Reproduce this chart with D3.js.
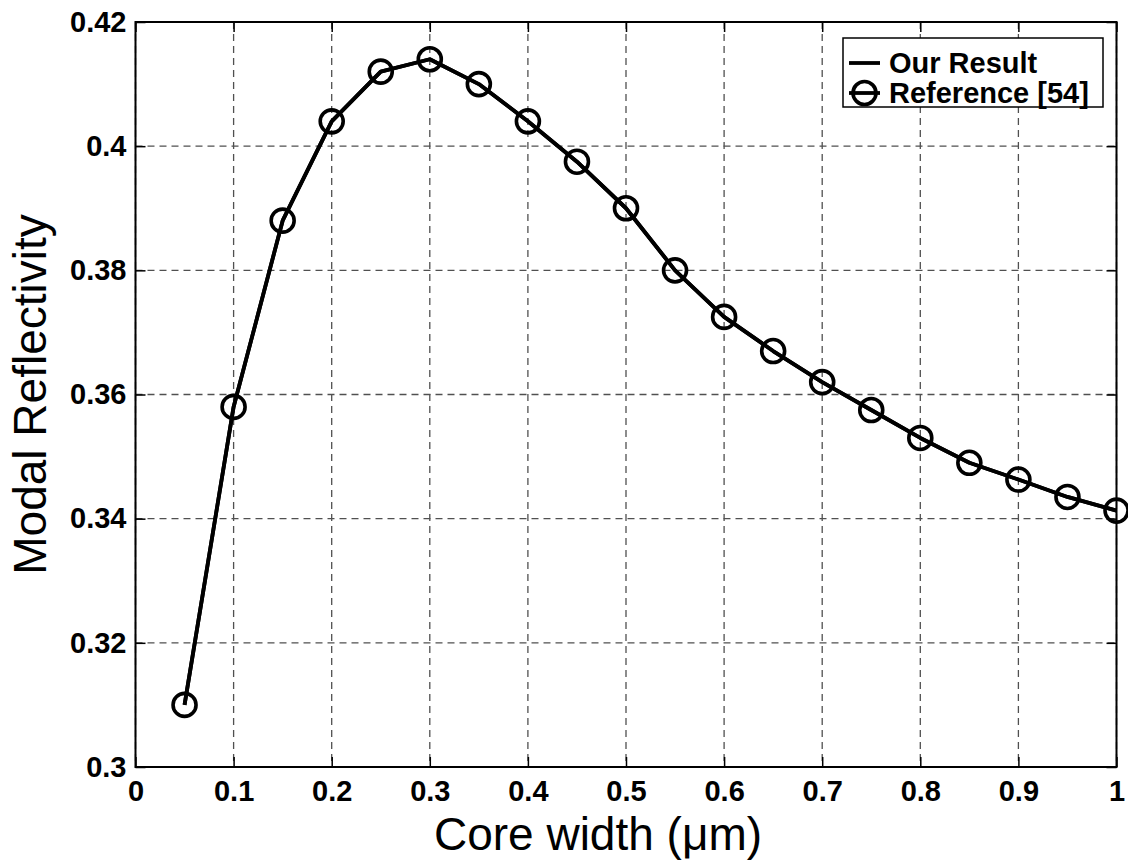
<!DOCTYPE html>
<html>
<head>
<meta charset="utf-8">
<script src="https://cdn.jsdelivr.net/npm/d3@7"></script>
<style>
  html, body { margin: 0; padding: 0; background: #fff; }
  svg { display: block; }
</style>
</head>
<body>
<svg id="chart" width="1128" height="861"></svg>
<script>
const coreWidth = [0.05, 0.1, 0.15, 0.2, 0.25, 0.3, 0.35, 0.4, 0.45, 0.5, 0.55, 0.6, 0.65, 0.7, 0.75, 0.8, 0.85, 0.9, 0.95, 1.0];
const ourResult = [0.310, 0.358, 0.388, 0.404, 0.412, 0.414, 0.410, 0.404, 0.3975, 0.390, 0.380, 0.3725, 0.367, 0.362, 0.3575, 0.353, 0.349, 0.3463, 0.3435, 0.3413];
const reference54 = [0.310, 0.358, 0.388, 0.404, 0.412, 0.414, 0.410, 0.404, 0.3975, 0.390, 0.380, 0.3725, 0.367, 0.362, 0.3575, 0.353, 0.349, 0.3463, 0.3435, 0.3413];
const xTicks = [0, 0.1, 0.2, 0.3, 0.4, 0.5, 0.6, 0.7, 0.8, 0.9, 1];
const xTickLabels = ["0", "0.1", "0.2", "0.3", "0.4", "0.5", "0.6", "0.7", "0.8", "0.9", "1"];
const yTicks = [0.3, 0.32, 0.34, 0.36, 0.38, 0.4, 0.42];
const yTickLabels = ["0.3", "0.32", "0.34", "0.36", "0.38", "0.4", "0.42"];
const legendLabels = ["Our Result", "Reference [54]"];
const xTitle = "Core width (\u03bcm)";
const yTitle = "Modal Reflectivity";

const FONT = "'Liberation Sans', Arial, Helvetica, sans-serif";
const plotLeft = 135.5, plotRight = 1116.5, plotTop = 22, plotBottom = 767;

const svg = d3.select("#chart");
svg.append("rect").attr("width", 1128).attr("height", 861).attr("fill", "#fff");

const x = d3.scaleLinear().domain([0, 1]).range([plotLeft, plotRight]);
const y = d3.scaleLinear().domain([0.3, 0.42]).range([plotBottom, plotTop]);

// grid
const grid = svg.append("g").attr("stroke", "#505050").attr("stroke-width", 1.3).attr("stroke-dasharray", "7,5");
xTicks.forEach((t) => {
  grid.append("line").attr("x1", x(t)).attr("x2", x(t)).attr("y1", plotTop).attr("y2", plotBottom);
});
yTicks.forEach((t) => {
  grid.append("line").attr("x1", plotLeft).attr("x2", plotRight).attr("y1", y(t)).attr("y2", y(t));
});

// axes (ticks inside, like matlab)
function styleAxis(g) {
  g.select(".domain").remove();
  g.selectAll(".tick line").attr("stroke", "#000").attr("stroke-width", 1.5);
  g.selectAll(".tick text")
    .attr("fill", "#000")
    .attr("font-family", FONT)
    .attr("font-size", 29)
    .attr("font-weight", "bold");
}

svg.append("g").attr("transform", `translate(0,${plotBottom})`)
  .call(d3.axisBottom(x).tickValues(xTicks).tickFormat((d, i) => xTickLabels[i]).tickSizeInner(-10).tickSizeOuter(0).tickPadding(13))
  .call(styleAxis);
svg.append("g").attr("transform", `translate(0,${plotTop})`)
  .call(d3.axisTop(x).tickValues(xTicks).tickFormat("").tickSizeInner(-10).tickSizeOuter(0))
  .call(styleAxis);
svg.append("g").attr("transform", `translate(${plotLeft},0)`)
  .call(d3.axisLeft(y).tickValues(yTicks).tickFormat((d, i) => yTickLabels[i]).tickSizeInner(-10).tickSizeOuter(0).tickPadding(9))
  .call(styleAxis);
svg.append("g").attr("transform", `translate(${plotRight},0)`)
  .call(d3.axisRight(y).tickValues(yTicks).tickFormat("").tickSizeInner(-10).tickSizeOuter(0))
  .call(styleAxis);

svg.append("rect")
  .attr("x", plotLeft).attr("y", plotTop).attr("width", plotRight - plotLeft).attr("height", plotBottom - plotTop)
  .attr("fill", "none").attr("stroke", "#000").attr("stroke-width", 2);

// series
const line = d3.line().x((d) => x(d[0])).y((d) => y(d[1]));
const ourPts = coreWidth.map((c, i) => [c, ourResult[i]]);
const refPts = coreWidth.map((c, i) => [c, reference54[i]]);

svg.append("path").datum(ourPts).attr("d", line)
  .attr("fill", "none").attr("stroke", "#000").attr("stroke-width", 3.8).attr("stroke-linejoin", "round");
svg.append("path").datum(refPts).attr("d", line)
  .attr("fill", "none").attr("stroke", "#000").attr("stroke-width", 3.8).attr("stroke-linejoin", "round");
svg.append("g").selectAll("circle").data(refPts).enter().append("circle")
  .attr("cx", (d) => x(d[0]))
  .attr("cy", (d) => y(d[1]))
  .attr("r", 11.5)
  .attr("fill", "none")
  .attr("stroke", "#000")
  .attr("stroke-width", 3.6);

// legend
const lg = svg.append("g");
lg.append("rect").attr("x", 843).attr("y", 38).attr("width", 260).attr("height", 69)
  .attr("fill", "#fff").attr("stroke", "#000").attr("stroke-width", 1.5);
legendLabels.forEach((label, i) => {
  const ly = 63 + i * 30;
  lg.append("line").attr("x1", 849).attr("x2", 880).attr("y1", ly).attr("y2", ly)
    .attr("stroke", "#000").attr("stroke-width", 3.8);
  if (i === 1) {
    lg.append("circle").attr("cx", 864.5).attr("cy", ly).attr("r", 11.5)
      .attr("fill", "none").attr("stroke", "#000").attr("stroke-width", 3.6);
  }
  lg.append("text").attr("x", 889).attr("y", ly).attr("dy", "0.36em")
    .attr("font-family", FONT).attr("font-size", 29).attr("font-weight", "bold")
    .text(label);
});

// titles
svg.append("text").attr("x", 598).attr("y", 850)
  .attr("text-anchor", "middle").attr("font-family", FONT).attr("font-size", 46)
  .text(xTitle);
svg.append("text").attr("transform", `translate(46,${(plotTop + plotBottom) / 2}) rotate(-90)`)
  .attr("text-anchor", "middle").attr("font-family", FONT).attr("font-size", 46)
  .text(yTitle);
</script>
</body>
</html>
